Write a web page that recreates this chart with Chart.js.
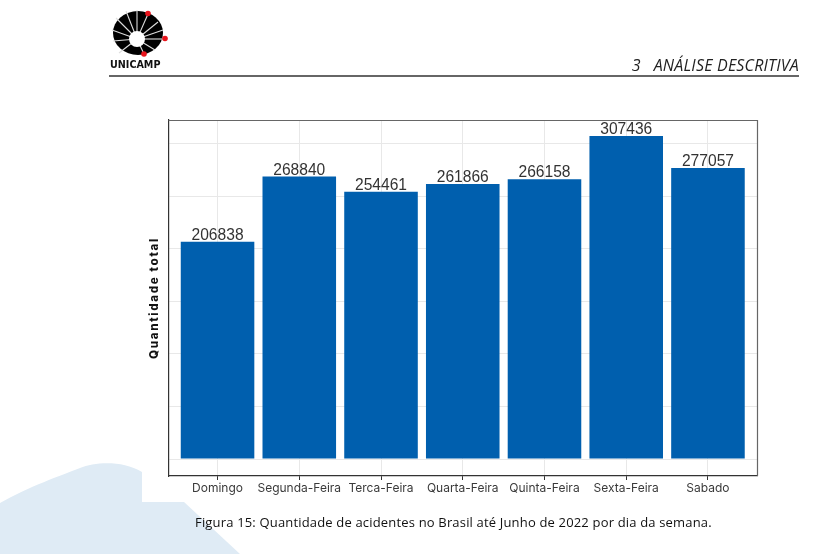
<!DOCTYPE html>
<html lang="pt">
<head>
<meta charset="utf-8">
<script src="https://cdn.jsdelivr.net/npm/chart.js@4"></script>
<style>
html,body{margin:0;padding:0;background:#fff;width:825px;height:554px;overflow:hidden}
#bg,#logo,canvas{position:absolute;left:0;top:0}
.t{position:absolute;white-space:nowrap;color:#111}
#header{right:26px;top:54px;font:italic 16px "Open Sans",sans-serif;color:#222;letter-spacing:.2px}
#rule{position:absolute;left:109px;top:75px;width:690px;height:1.5px;background:#666}
#caption{left:195px;top:513px;font:13px "Open Sans",sans-serif;letter-spacing:.17px}
#uni{left:110px;top:59px;font:bold 9.6px "DejaVu Sans",sans-serif;color:#111}
</style>
</head>
<body>
<svg id="bg" width="825" height="554">
<path d="M0 503 C30 486 60 476 80 468 C95 462 122 460 142 472 L142 502 L184 502 L240 554 L0 554 Z" fill="#dfebf5"/>
</svg>
<canvas id="c" width="825" height="554"></canvas>
<svg id="logo" width="825" height="80">
<ellipse cx="138" cy="33" rx="25" ry="22" fill="#000"/>
<g stroke="#ddd" stroke-width="1.1">
<line x1="137" y1="39" x2="137" y2="10"/><line x1="137" y1="39" x2="126" y2="11"/>
<line x1="137" y1="39" x2="116" y2="18"/><line x1="137" y1="39" x2="112" y2="30"/>
<line x1="137" y1="39" x2="113" y2="41"/><line x1="137" y1="39" x2="119" y2="53"/>
<line x1="137" y1="39" x2="148" y2="14"/><line x1="137" y1="39" x2="158" y2="22"/>
<line x1="137" y1="39" x2="163" y2="30"/><line x1="137" y1="39" x2="165" y2="39"/>
<line x1="137" y1="39" x2="155" y2="50"/><line x1="137" y1="39" x2="144" y2="54"/>
</g>
<circle cx="137" cy="39" r="8" fill="#fff"/>
<circle cx="148" cy="13.5" r="2.8" fill="#e8141c"/>
<circle cx="165" cy="38.5" r="2.8" fill="#e8141c"/>
<circle cx="144" cy="54" r="2.8" fill="#e8141c"/>
</svg>
<div class="t" id="uni">UNICAMP</div>
<div class="t" id="header">3&nbsp;&nbsp;&nbsp;ANÁLISE DESCRITIVA</div>
<div id="rule"></div>
<div class="t" id="caption">Figura 15: Quantidade de acidentes no Brasil até Junho de 2022 por dia da semana.</div>
<script>
const categories = ["Domingo","Segunda-Feira","Terca-Feira","Quarta-Feira","Quinta-Feira","Sexta-Feira","Sabado"];
const totals = [206838,268840,254461,261866,266158,307436,277057];
const yGridValues = [0,50000,100000,150000,200000,250000,300000];
const yTitle = "Quantidade total";

const valueLabels = {
  id:"valueLabels",
  afterDatasetsDraw(chart){
    const ctx = chart.ctx, meta = chart.getDatasetMeta(0);
    ctx.save();
    ctx.font = '15.6px "Liberation Sans", sans-serif';
    ctx.fillStyle = "#333333";
    ctx.textAlign = "center";
    ctx.textBaseline = "alphabetic";
    meta.data.forEach((bar,i)=>ctx.fillText(String(totals[i]), bar.x, bar.y - 2));
    ctx.restore();
  }
};
const panelFrame = {
  id:"panelFrame",
  afterDraw(chart){
    const {left,right,top,bottom} = chart.chartArea, ctx = chart.ctx;
    ctx.save();
    ctx.strokeStyle = "#666666"; ctx.lineWidth = 1.2;
    ctx.beginPath();
    ctx.moveTo(left,top+.5); ctx.lineTo(right+.5,top+.5); ctx.lineTo(right+.5,bottom);
    ctx.stroke();
    ctx.fillStyle = "#111111";
    ctx.font = '800 11.5px "Inter", sans-serif';
    ctx.letterSpacing = "1.7px";
    ctx.textAlign = "center";
    ctx.textBaseline = "middle";
    ctx.translate(155,(top+bottom)/2);
    ctx.rotate(-Math.PI/2);
    ctx.fillText(yTitle,0,0);
    ctx.restore();
  }
};

new Chart(document.getElementById("c"),{
  type:"bar",
  data:{datasets:[{
    data:categories.map((_,i)=>({x:i+1,y:totals[i]})),
    backgroundColor:"#005fae",
    barPercentage:.9,
    categoryPercentage:1
  }]},
  options:{
    responsive:false,
    animation:false,
    layout:{padding:{top:120,right:68,bottom:0,left:0}},
    plugins:{legend:{display:false},tooltip:{enabled:false}},
    scales:{
      x:{
        type:"linear",min:.4,max:7.6,offset:false,
        afterBuildTicks(s){s.ticks=categories.map((_,i)=>({value:i+1}));},
        afterFit(s){s.height=78;},
        ticks:{
          autoSkip:false,maxRotation:0,minRotation:0,padding:1,
          color:"#3a3a3a",font:{family:"Inter",size:12},
          callback:v=>categories[v-1]
        },
        grid:{offset:false,color:"#e8e8e8",tickColor:"#333333",tickLength:4,lineWidth:1},
        border:{color:"#333333",width:1.2}
      },
      y:{
        min:-16180,max:322670,
        afterBuildTicks(s){s.ticks=yGridValues.map(v=>({value:v}));},
        afterFit(s){s.width=168.5;},
        ticks:{display:false,autoSkip:false},
        grid:{color:"#e8e8e8",tickLength:0,lineWidth:1},
        border:{color:"#333333",width:1.2}
      }
    }
  },
  plugins:[valueLabels,panelFrame]
});
</script>
</body>
</html>
